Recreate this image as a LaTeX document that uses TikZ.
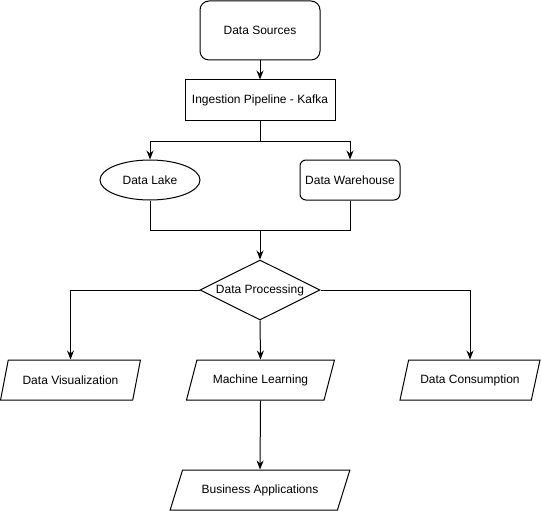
\documentclass[tikz,border=0pt]{standalone}
\usepackage{fontspec}
\setmainfont{Liberation Sans}
\usetikzlibrary{shapes.geometric,arrows.meta}
\begin{document}
\begin{tikzpicture}[x=1pt,y=-1pt,
  base/.style={draw=black,line width=1pt,inner sep=0pt,font=\fontsize{12}{14}\selectfont,fill=white},
  rbox/.style={base,rectangle,rounded corners=#1},
  sbox/.style={base,rectangle},
  oval/.style={base,ellipse,minimum width=100pt,minimum height=40pt},
  decision/.style={base,diamond,minimum width=120pt,minimum height=60pt,aspect=2},
  para/.style={base,trapezium,trapezium stretches=true,trapezium left angle=#1,trapezium right angle=180-#1,minimum height=40pt},
  line/.style={draw=black,line width=1pt},
  arr/.style={line,-{Stealth[length=9pt,width=7pt,inset=3pt]}}]
\useasboundingbox (0,0) rectangle (541,511);

\node[rbox=9pt,minimum width=120pt,minimum height=59pt] (ds) at (260,30.5) {Data Sources};
\node[sbox,minimum width=150pt,minimum height=40pt] (ing) at (260,100) {Ingestion Pipeline - Kafka};
\node[oval] (lake) at (150,180) {Data Lake};
\node[rbox=6pt,minimum width=100pt,minimum height=40pt] (dw) at (350,180) {Data Warehouse};
\node[decision] (proc) at (260,290) {Data Processing};
\node[para=56,minimum width=140pt] (dv) at (70.5,380) {Data Visualization};
\node[para=55,minimum width=148pt] (ml) at (260.5,380) {Machine Learning};
\node[para=58,minimum width=140pt] (dc) at (470,380) {Data Consumption};
\node[para=50,minimum width=180pt] (ba) at (260,490) {Business Applications};
\coordinate (join) at (260,230);

\draw[arr] (ds) -- (ing);
\draw[arr] (ing.south) -- ++(0,21) -| (lake.north);
\draw[arr] (ing.south) -- ++(0,21) -| (dw.north);
\draw[line] (lake.south) |- (join);
\draw[line] (dw.south) |- (join);
\draw[arr] (join) -- (proc.north);
\draw[arr] (proc.west) -| (dv.north);
\draw[arr] (proc.east) -| (dc.north);
\draw[arr] (proc.south) -- (ml.north);
\draw[arr] (ml.south) -- (ba.north);
\end{tikzpicture}
\end{document}
